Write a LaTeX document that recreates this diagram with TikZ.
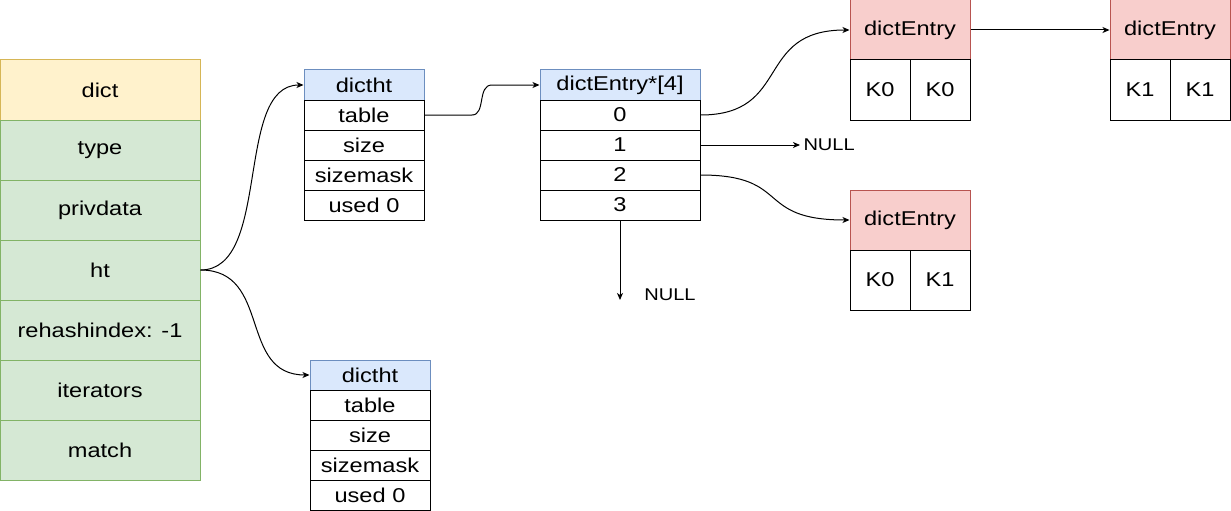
\documentclass[tikz,border=0pt]{standalone}
\usepackage{fontspec}
\setmainfont{Liberation Sans}[FakeStretch=1.18]
\usetikzlibrary{arrows.meta}
\definecolor{ylwF}{HTML}{FFF2CC}\definecolor{ylwD}{HTML}{D6B656}
\definecolor{grnF}{HTML}{D5E8D4}\definecolor{grnD}{HTML}{82B366}
\definecolor{bluF}{HTML}{DAE8FC}\definecolor{bluD}{HTML}{6C8EBF}
\definecolor{redF}{HTML}{F8CECC}\definecolor{redD}{HTML}{B85450}
\begin{document}
\begin{tikzpicture}[x=1pt,y=-1pt,
  every node/.style={font=\fontsize{20}{23}\selectfont, inner sep=0pt, line width=1pt},
  cellbox/.style={draw=black, fill=white, minimum width=#1, minimum height=30pt},
  dictrow/.style={draw=grnD, fill=grnF, minimum width=200pt, minimum height=60pt},
  dicthead/.style={draw=ylwD, fill=ylwF, minimum width=200pt, minimum height=60pt},
  bluehead/.style={draw=bluD, fill=bluF, minimum width=#1, minimum height=30pt},
  redhead/.style={draw=redD, fill=redF, minimum width=120pt, minimum height=60pt},
  kcell/.style={draw=black, fill=white, minimum width=60pt, minimum height=60pt},
  nulltext/.style={font=\fontsize{17}{20}\selectfont},
  conn/.style={line width=1pt, -{Stealth[length=7pt,width=6pt,inset=2pt]}}]
\useasboundingbox (0,0) rectangle (1231,511);
% dict column
\node[dicthead] (dict) at (100,90) {dict};
\node[dictrow] (type) at (100,150) {type};
\node[dictrow] (priv) at (100,210) {privdata};
\node[dictrow] (ht) at (100,270) {ht};
\node[dictrow] (rehash) at (100,330) {rehashindex: -1};
\node[dictrow] (iter) at (100,390) {iterators};
\node[dictrow] (match) at (100,450) {match};
% dictht 1
\node[bluehead=120pt] (ha) at (364,85) {dictht};
\node[cellbox=120pt] (ha1) at (364,115) {table};
\node[cellbox=120pt] (ha2) at (364,145) {size};
\node[cellbox=120pt] (ha3) at (364,175) {sizemask};
\node[cellbox=120pt] (ha4) at (364,205) {used 0};
% dictht 2
\node[bluehead=120pt] (hb) at (370,375) {dictht};
\node[cellbox=120pt] (hb1) at (370,405) {table};
\node[cellbox=120pt] (hb2) at (370,435) {size};
\node[cellbox=120pt] (hb3) at (370,465) {sizemask};
\node[cellbox=120pt] (hb4) at (370,495) {used 0};
% array
\node[bluehead=160pt] (arr) at (620,85) {dictEntry*[4]};
\node[cellbox=160pt] (r0) at (620,115) {0};
\node[cellbox=160pt] (r1) at (620,145) {1};
\node[cellbox=160pt] (r2) at (620,175) {2};
\node[cellbox=160pt] (r3) at (620,205) {3};
% entries
\node[redhead] (ea) at (910,30) {dictEntry};
\node[kcell] (ea1) at (880,90) {K0};
\node[kcell] (ea2) at (940,90) {K0};
\node[redhead] (eb) at (1170,30) {dictEntry};
\node[kcell] (eb1) at (1140,90) {K1};
\node[kcell] (eb2) at (1200,90) {K1};
\node[redhead] (ec) at (910,220) {dictEntry};
\node[kcell] (ec1) at (880,280) {K0};
\node[kcell] (ec2) at (940,280) {K1};
% NULLs
\node[nulltext, anchor=west, inner sep=3pt] (n1) at (800,145) {NULL};
\coordinate (n2end) at (620,300);
\node[nulltext] (n2) at (670,295) {NULL};
% connectors
\draw[conn] (ht.east) .. controls (272,270) and (234,85) .. (ha.west);
\draw[conn] (ht.east) .. controls (272,270) and (238,375) .. (hb.west);
\draw[conn] (ha1.east) -- (472,115) .. controls (486,115) and (477,85) .. (492,85) -- (arr.west);
\draw[conn] (r0.east) .. controls (792,115) and (754,30) .. (ea.west);
\draw[conn] (r2.east) .. controls (792,175) and (754,220) .. (ec.west);
\draw[conn] (r1.east) -- (n1.west);
\draw[conn] (r3.south) -- (n2end);
\draw[conn] (ea.east) -- (eb.west);
\end{tikzpicture}
\end{document}
